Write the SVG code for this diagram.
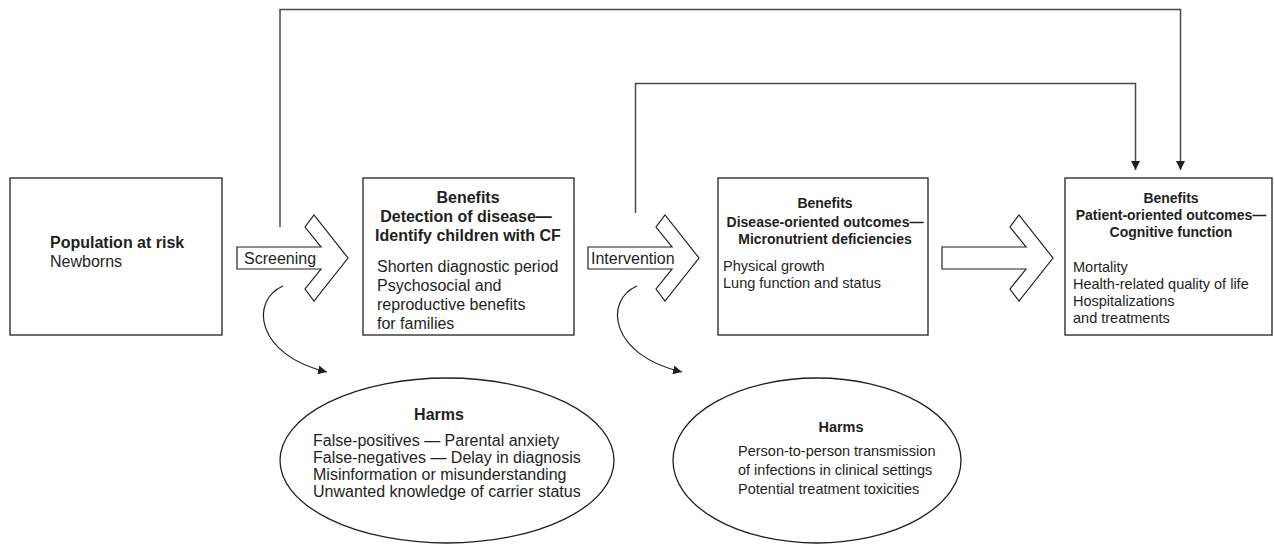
<svg xmlns="http://www.w3.org/2000/svg" width="1274" height="545" viewBox="0 0 1274 545">
<style>
text{font-family:"Liberation Sans",Arial,sans-serif;fill:#231f20}
.b{font-weight:bold}
.f16{font-size:16px}
.f14{font-size:14.5px}
.h14{font-size:14px}
.c{text-anchor:middle}
.box{fill:#fff;stroke:#231f20;stroke-width:1.3}
.big{fill:#fff;stroke:#231f20;stroke-width:1.2;stroke-linejoin:miter}
.con{fill:none;stroke:#4a4a4a;stroke-width:1.5}
.cur{fill:none;stroke:#231f20;stroke-width:1.2}
</style>
<defs>
<marker id="ah" viewBox="0 0 10 10" refX="10" refY="5" markerWidth="9" markerHeight="9" markerUnits="userSpaceOnUse" orient="auto"><path d="M0,0 L10,5 L0,10 z" fill="#231f20"/></marker>
</defs>
<g id="connectors">
<path class="con" d="M280,227 V9.5 H1180.5 V170" marker-end="url(#ah)"/>
<path class="con" d="M635.5,213 V83.5 H1135.5 V170" marker-end="url(#ah)"/>
<path class="cur" d="M283,286 C250,300 255,355 327,372" marker-end="url(#ah)"/>
<path class="cur" d="M637,286 C604,300 609,355 682,372" marker-end="url(#ah)"/>
</g>
<g id="arrow-screening">
<polygon class="big" points="237,247 321,247 305,227 314,215 348,258 314,301 305,289 321,269 237,269"/>
<text class="f16" x="244" y="264">Screening</text>
</g>
<g id="arrow-intervention">
<polygon class="big" points="588,247 672,247 656,227 665,215 699,258 665,301 656,289 672,269 588,269"/>
<text class="f16" x="591" y="264">Intervention</text>
</g>
<g id="arrow-outcomes">
<polygon class="big" points="942,247 1026,247 1010,227 1019,215 1053,258 1019,301 1010,289 1026,269 942,269"/>
</g>
<g id="population">
<rect class="box" x="10" y="178" width="212" height="157"/>
<text class="f16 b" x="50" y="248">Population at risk</text>
<text class="f16" x="50" y="267">Newborns</text>
</g>
<g id="detection">
<rect class="box" x="363" y="178" width="211" height="157"/>
<text class="f16 b c" x="468" y="203">Benefits</text>
<text class="f16 b c" x="466" y="222">Detection of disease—</text>
<text class="f16 b c" x="468" y="241">Identify children with CF</text>
<text class="f16" x="377" y="272">Shorten diagnostic period</text>
<text class="f16" x="377" y="291">Psychosocial and</text>
<text class="f16" x="377" y="310">reproductive benefits</text>
<text class="f16" x="377" y="329">for families</text>
</g>
<g id="disease-outcomes">
<rect class="box" x="718" y="178" width="210" height="157"/>
<text class="h14 b c" x="825" y="208">Benefits</text>
<text class="h14 b c" x="825" y="227">Disease-oriented outcomes—</text>
<text class="h14 b c" x="825" y="244">Micronutrient deficiencies</text>
<text class="f14" x="723" y="271">Physical growth</text>
<text class="f14" x="723" y="288">Lung function and status</text>
</g>
<g id="patient-outcomes">
<rect class="box" x="1065" y="178" width="207" height="157"/>
<text class="h14 b c" x="1171" y="203">Benefits</text>
<text class="h14 b c" x="1171" y="220">Patient-oriented outcomes—</text>
<text class="h14 b c" x="1171" y="237">Cognitive function</text>
<text class="f14" x="1073" y="272">Mortality</text>
<text class="f14" x="1073" y="289">Health-related quality of life</text>
<text class="f14" x="1073" y="306">Hospitalizations</text>
<text class="f14" x="1073" y="323">and treatments</text>
</g>
<g id="harms-screening">
<ellipse class="box" cx="447" cy="460.5" rx="167" ry="82.5"/>
<text class="f16 b c" x="439" y="420">Harms</text>
<text class="f16" x="313" y="446">False-positives — Parental anxiety</text>
<text class="f16" x="313" y="463">False-negatives — Delay in diagnosis</text>
<text class="f16" x="313" y="480">Misinformation or misunderstanding</text>
<text class="f16" x="313" y="497">Unwanted knowledge of carrier status</text>
</g>
<g id="harms-intervention">
<ellipse class="box" cx="817" cy="460.5" rx="144" ry="82.5"/>
<text class="f14 b c" x="841" y="432">Harms</text>
<text class="f14" x="738" y="456">Person-to-person transmission</text>
<text class="f14" x="738" y="475">of infections in clinical settings</text>
<text class="f14" x="738" y="494">Potential treatment toxicities</text>
</g>
</svg>
